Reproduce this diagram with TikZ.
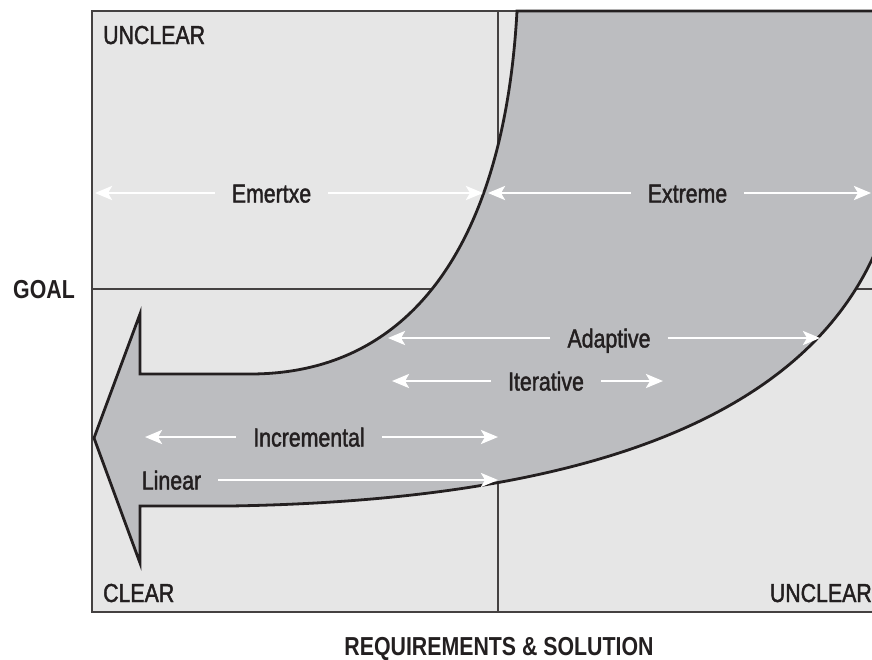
\documentclass[tikz,border=0pt]{standalone}
\usepackage{fontspec}
\setmainfont{Liberation Sans}[FakeStretch=0.82]
\newfontfamily\medfont{Liberation Sans}[FakeStretch=0.82, FakeBold=1.6]
\usepackage{xcolor}
\usepackage{tikz}
\usetikzlibrary{arrows.meta, calc}
\definecolor{pale}{HTML}{E6E6E6}
\definecolor{flowgray}{HTML}{BCBDC0}
\definecolor{ink}{HTML}{231F20}

\begin{document}
\begin{tikzpicture}[x=1pt, y=-1pt,
  txt/.style={font=\medfont\fontsize{26}{30}\selectfont, text=ink, inner sep=0pt},
  axis/.style={font=\fontsize{26}{30}\selectfont\bfseries, text=ink, inner sep=0pt},
  way/.style={txt, inner xsep=17pt, text height=19pt, text depth=0pt},
  wr/.style={draw=white, line width=2.8pt, -{Stealth[length=17pt, width=14pt, inset=4pt]}},
  grid line/.style={draw=ink!85, line width=1.2pt}]
\useasboundingbox (0,0) rectangle (872,659);
\begin{scope}
\clip (0,0) rectangle (872,659);
\fill[pale] (92,11) rectangle (900,612);
\draw[grid line] (92,11) rectangle (900,612);
\draw[grid line] (92,289) -- (900,289);
\draw[grid line] (498,11) -- (498,612);
% the big bent arrow
\draw[fill=flowgray, draw=ink, line width=2.8pt, line join=miter]
  (517,11) -- (900,11) -- (900,160)
  .. controls (870,410) and (600,500) .. (230,506)
  -- (140,506) -- (140,563) -- (94,438) -- (140,314) -- (140,374) -- (250,374)
  .. controls (420,374) and (505,230) .. (517,11) -- cycle;
\end{scope}

\node[txt, anchor=base west] (unclearTop) at (103,44) {UNCLEAR};
\node[txt, anchor=base west] (clear) at (103,602) {CLEAR};
\node[txt, anchor=base east] (unclearRight) at (872,602) {UNCLEAR};
\node[axis, anchor=base west] (goal) at (13,298) {GOAL};
\node[axis, anchor=base] (reqsol) at (499,655) {REQUIREMENTS \& SOLUTION};

% arrow ends
\coordinate (emL) at (95,193);
\coordinate (emR) at (483,193);
\coordinate (exL) at (488,193);
\coordinate (exR) at (871,193);
\coordinate (adL) at (388,338);
\coordinate (adR) at (820,338);
\coordinate (itL) at (392,381);
\coordinate (itR) at (663,381);
\coordinate (inL) at (145,437);
\coordinate (inR) at (498,437);
\coordinate (liR) at (498,480);

\node[way] (emertxe) at (271.5,193) {Emertxe};
\node[way] (extreme) at (687.5,193) {Extreme};
\node[way] (adaptive) at (609,338) {Adaptive};
\node[way] (iterative) at (546,381) {Iterative};
\node[way] (incremental) at (309,437) {Incremental};
\node[way] (linear) at (171.5,480) {Linear};

\draw[wr] (emertxe.west) -- (emL);
\draw[wr] (emertxe.east) -- (emR);
\draw[wr] (extreme.west) -- (exL);
\draw[wr] (extreme.east) -- (exR);
\draw[wr] (adaptive.west) -- (adL);
\draw[wr] (adaptive.east) -- (adR);
\draw[wr] (iterative.west) -- (itL);
\draw[wr] (iterative.east) -- (itR);
\draw[wr] (incremental.west) -- (inL);
\draw[wr] (incremental.east) -- (inR);
\draw[wr] (linear.east) -- (liR);
\end{tikzpicture}
\end{document}
